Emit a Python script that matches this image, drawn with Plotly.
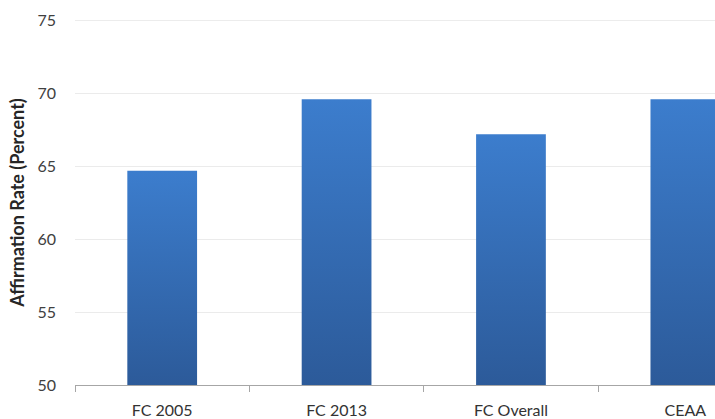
import plotly.graph_objects as go

# Affirmation rates by source
categories = ["FC 2005", "FC 2013", "FC Overall", "CEAA"]
rates = [64.7, 69.6, 67.2, 69.6]

y_floor = 50
y_ceiling = 75
y_tick_values = [50, 55, 60, 65, 70, 75]
bar_half_width = 0.2

bar_top_color = "#3C7DCD"
bar_bottom_color = "#2C5A99"
grid_color = "#EBEBEB"

fig = go.Figure()

# Each bar is a filled rectangle with a vertical blue gradient
for i, (name, val) in enumerate(zip(categories, rates)):
    fig.add_trace(go.Scatter(
        x=[i - bar_half_width, i + bar_half_width, i + bar_half_width,
           i - bar_half_width, i - bar_half_width],
        y=[y_floor, y_floor, val, val, y_floor],
        mode="lines",
        line=dict(width=0),
        fill="toself",
        fillgradient=dict(
            type="vertical",
            start=y_floor,
            stop=val,
            colorscale=[[0, bar_bottom_color], [1, bar_top_color]],
        ),
        name=name,
        hoverinfo="skip",
        showlegend=False,
    ))

# Gridline at the top of the value range (plotly skips it at the edge)
fig.add_shape(
    type="line", xref="paper", yref="y",
    x0=0, x1=1, y0=y_ceiling, y1=y_ceiling,
    line=dict(color=grid_color, width=1),
    layer="below",
)

fig.update_layout(
    width=715,
    height=419,
    margin=dict(l=75, r=0, t=20, b=32),
    paper_bgcolor="white",
    plot_bgcolor="white",
    font=dict(family="Lato, 'Open Sans', sans-serif", color="#404040"),
    xaxis=dict(
        range=[-0.5, 3.17],
        tickmode="array",
        tickvals=list(range(len(categories))),
        ticktext=categories,
        ticks="",
        ticklabelstandoff=11,
        showgrid=False,
        zeroline=False,
        showline=True,
        linecolor="#A6A6A6",
        linewidth=1,
        tickfont=dict(size=16, color="#333333"),
        minor=dict(
            tickvals=[-0.5, 0.5, 1.5, 2.5],
            ticks="outside",
            ticklen=6,
            tickcolor="#A6A6A6",
            showgrid=False,
        ),
        fixedrange=True,
    ),
    yaxis=dict(
        range=[y_floor, y_ceiling + 0.03],
        tickmode="array",
        tickvals=y_tick_values,
        showgrid=True,
        gridcolor=grid_color,
        gridwidth=1,
        zeroline=False,
        showline=False,
        ticks="",
        ticklabelstandoff=18,
        tickfont=dict(size=16, color="#404040"),
        title=dict(
            text="<b>Affirmation Rate (Percent)</b>",
            font=dict(size=18, color="#262626"),
            standoff=8,
        ),
        fixedrange=True,
    ),
)

fig.write_html("out.html")
